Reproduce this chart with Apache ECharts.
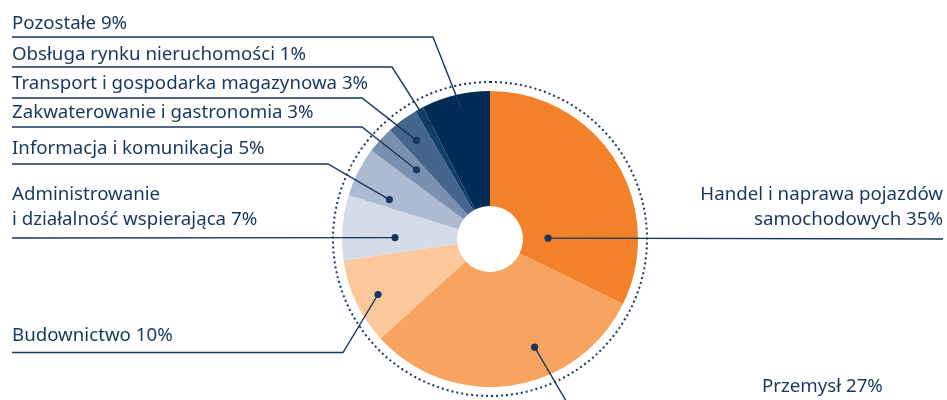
<!DOCTYPE html>
<html>
<head>
<meta charset="utf-8">
<script src="https://cdn.jsdelivr.net/npm/echarts@6/dist/echarts.min.js"></script>
<style>
  html, body { margin: 0; padding: 0; background: #fff; }
  #main { width: 947px; height: 400px; }
</style>
</head>
<body>
<div id="main"></div>
<script>
// kategorie (kolejnosc zgodnie z ruchem wskazowek zegara od godz. 12)
var categories = [
    'Handel i naprawa pojazdów\nsamochodowych',
    'Przemysł',
    'Budownictwo',
    'Administrowanie\ni działalność wspierająca',
    'Informacja i komunikacja',
    'Zakwaterowanie i gastronomia',
    'Transport i gospodarka magazynowa',
    'Obsługa rynku nieruchomości',
    'Pozostałe'
];
// udzialy podpisane na wykresie (%)
var labelPercents = [35, 27, 10, 7, 5, 3, 3, 1, 9];
// wielkosc wycinkow
var sectorShares = [32.2, 31.0, 9.4, 7.1, 5.4, 3.0, 3.4, 0.9, 7.5];
var colors = ['#f2812a', '#f8a461', '#fcc89b', '#d3dce8', '#adbbd2', '#7a90b0', '#45658c', '#0f4069', '#022b55'];

// uklad podpisow
var labelX     = [943, 762, 12, 12, 12, 12, 12, 12, 12];
var labelAlign = ['right', 'left', 'left', 'left', 'left', 'left', 'left', 'left', 'left'];
var labelMidY  = [207.5, 386.5, 335.5, 207.5, 149, 113, 83.5, 54.5, 24];
var lineY      = [239, 406, 352.5, 238, 164, 127, 98, 67, 37];
var lineFromX  = [943, 890, 12, 12, 12, 12, 12, 12, 12];
var bendX      = [null, 569, 343, null, 328, 362, 362, 392, 433];
var dotFrac    = [0.768, 0.372, 0.469, 0.36, 0.215, 0.61, 0.475, 0.66, 0.544];
var dotR       = [58, 117, 125, 95, 108, 101, 123, 130, 132];
var showDot    = [true, true, true, true, true, true, true, true, false];

var CX = 490, CY = 239, R0 = 33, R1 = 148, RDOT = 157;
var NAVY = '#17375e';
var FONT = '18.7px "Noto Sans"';

var myChart = echarts.init(document.getElementById('main'));

var total = sectorShares.reduce(function (a, b) { return a + b; }, 0);
var startDeg = [];
var acc = 0;
sectorShares.forEach(function (v) { startDeg.push(acc / total * 360); acc += v; });

function dotPoint(i) {
    var sweep = sectorShares[i] / total * 360;
    var a = (startDeg[i] + dotFrac[i] * sweep) * Math.PI / 180;
    return [CX + dotR[i] * Math.sin(a), CY - dotR[i] * Math.cos(a)];
}

function renderLabel(params, api) {
    var i = params.dataIndex;
    var dot = dotPoint(i);
    var pts = [[lineFromX[i], lineY[i]]];
    if (bendX[i] !== null) {
        pts.push([bendX[i], lineY[i]]);
    }
    pts.push(dot);
    var children = [{
        type: 'polyline',
        shape: { points: pts },
        style: { stroke: NAVY, lineWidth: 1.4, fill: null }
    }, {
        type: 'text',
        style: {
            x: labelX[i],
            y: labelMidY[i],
            text: categories[i] + ' ' + labelPercents[i] + '%',
            font: FONT,
            fill: NAVY,
            align: labelAlign[i],
            verticalAlign: 'middle',
            lineHeight: 25
        }
    }];
    if (showDot[i]) {
        children.push({
            type: 'circle',
            shape: { cx: dot[0], cy: dot[1], r: 3.6 },
            style: { fill: NAVY }
        });
    }
    return { type: 'group', children: children };
}

myChart.setOption({
    animation: false,
    series: [{
        type: 'pie',
        silent: true,
        center: [CX, CY],
        radius: [0, RDOT],
        label: { show: false },
        labelLine: { show: false },
        itemStyle: {
            color: 'none',
            borderColor: NAVY,
            borderWidth: 2,
            borderType: [2, 3]
        },
        data: [{ value: 1 }]
    }, {
        type: 'pie',
        silent: true,
        center: [CX, CY],
        radius: [R0, R1],
        startAngle: 90,
        clockwise: true,
        label: { show: false },
        labelLine: { show: false },
        itemStyle: { borderWidth: 0 },
        data: categories.map(function (c, i) {
            return { name: c, value: sectorShares[i], itemStyle: { color: colors[i] } };
        })
    }, {
        type: 'custom',
        coordinateSystem: 'none',
        silent: true,
        z: 10,
        renderItem: renderLabel,
        data: categories.map(function (c, i) { return i; })
    }]
});
</script>
</body>
</html>
